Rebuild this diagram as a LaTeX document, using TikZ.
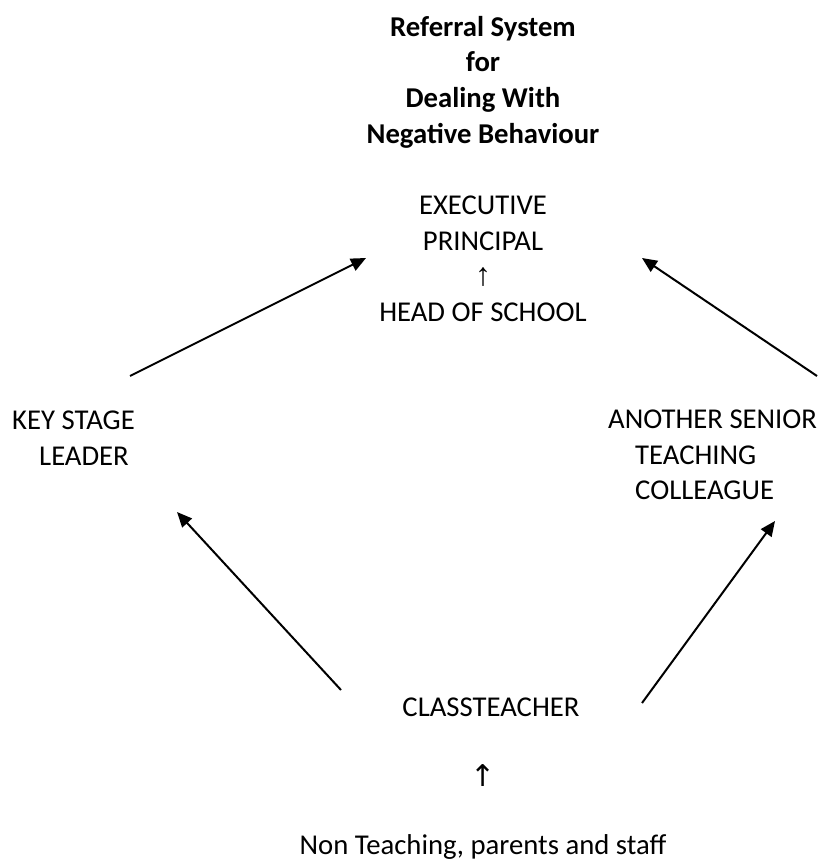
\documentclass[tikz,border=0pt]{standalone}
\usepackage{fontspec}
\setmainfont{Carlito}
\newfontfamily\arrowfont{DejaVu Sans}
\newfontfamily\thinarrowfont{Liberation Sans}
\usetikzlibrary{positioning,arrows.meta,calc}

\begin{document}
\begin{tikzpicture}[
		x=1pt, y=-1pt,
		>={Triangle[length=15pt,width=13pt]},
		role_text/.style={align=center, inner sep=0pt, font=\fontsize{28.7}{35.5}\selectfont},
		title_text/.style={align=center, inner sep=0pt, font=\fontsize{28.7}{35.7}\selectfont\bfseries},
		refer_arrow/.style={->, line width=2pt}
		]
		
		\useasboundingbox (0,0) rectangle (824,866);
		
		% --- TITLE ---
		\node[title_text] (title) at (483,82) {Referral System\\for\\Dealing With\\Negative Behaviour};
		
		% --- ROLES ---
		\node[role_text] (top) at (483,259)
			{EXECUTIVE\\PRINCIPAL\\{\thinarrowfont\fontsize{32}{32}\selectfont ↑}\\HEAD OF SCHOOL};
		\node[role_text, align=left, anchor=west] (ksl) at (12,438) {KEY STAGE\\\hspace*{27pt}LEADER};
		\node[role_text, align=left, anchor=west] (astc) at (608,455)
			{ANOTHER SENIOR\\\hspace*{27pt}TEACHING\\\hspace*{27pt}COLLEAGUE};
		\node[role_text] (teacher) at (491,707) {CLASSTEACHER};
		\node[role_text] (lift) at (483,776) {\arrowfont\fontsize{30}{30}\selectfont ↑};
		\node[role_text] (nonteach) at (483,847) {Non Teaching, parents and staff};
		
		% --- REFERRAL ARROWS ---
		\draw[refer_arrow] ($(ksl.west)+(118,-62)$) -- ($(top)+(-117,-1)$);
		\draw[refer_arrow] ($(astc.west)+(209,-79)$) -- ($(top)+(159,-1)$);
		\draw[refer_arrow] ($(teacher)+(-150,-17)$) -- ($(ksl.west)+(165,74)$);
		\draw[refer_arrow] ($(teacher)+(151,-4)$) -- ($(astc.west)+(167,66)$);
		
	\end{tikzpicture}
\end{document}
